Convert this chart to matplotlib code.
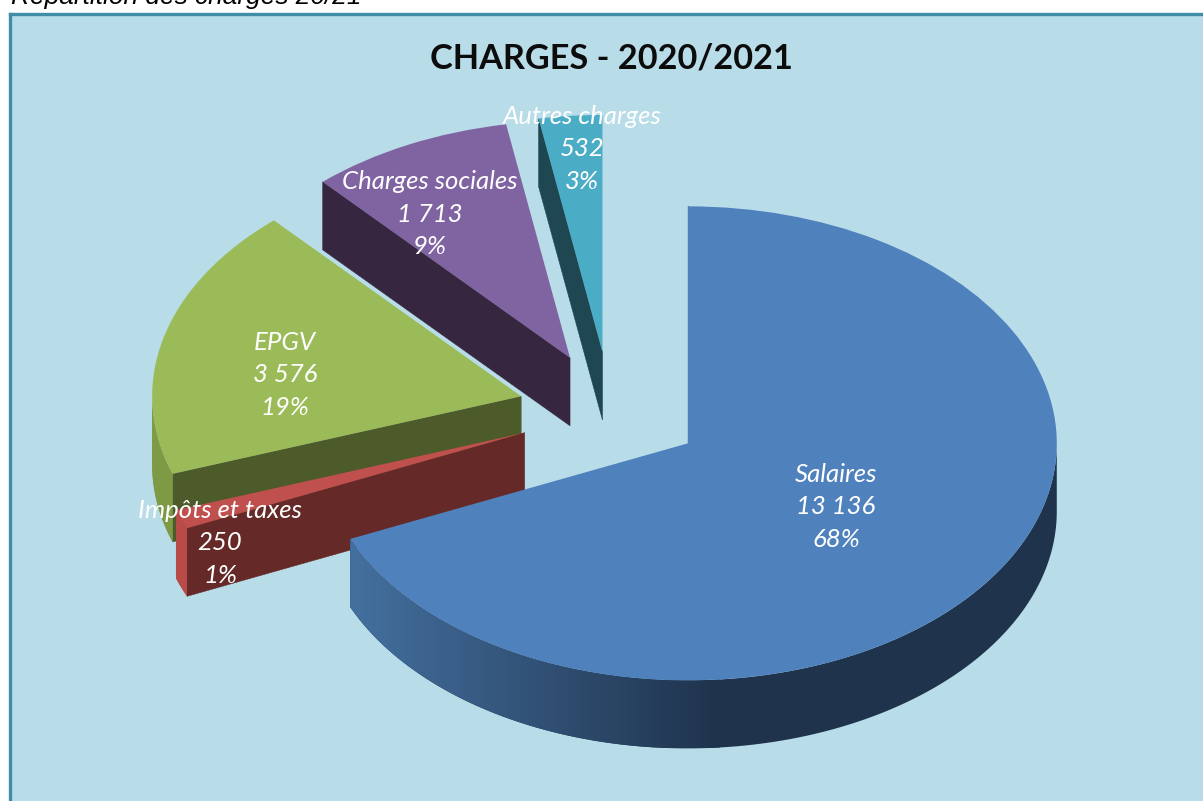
import numpy as np
import matplotlib
matplotlib.use("Agg")
import matplotlib.pyplot as plt
from matplotlib.colors import LinearSegmentedColormap
from matplotlib.patches import Polygon

# === Data ===
categories = ["Salaires", "Impôts et taxes", "EPGV", "Charges sociales", "Autres charges"]
values = [13136, 250, 3576, 1713, 532]
percent_labels = ["68%", "1%", "19%", "9%", "3%"]
page_caption = "Répartition des charges 20/21"
chart_title = "CHARGES - 2020/2021"

# === Style ===
W, H = 1203, 801
TOP_COLORS = ["#4f81bd", "#c0504d", "#9bbb59", "#8064a2", "#4bacc6"]
CUT_COLORS = ["#1f334d", "#652a27", "#4d5a2a", "#36263f", "#1f4752"]
WALL_LEFT = ["#44709f", "#b84b48", "#7f9a45", "#6a5387", "#3b8ba0"]
WALL_RIGHT = ["#1f334d", "#b84b48", "#7f9a45", "#6a5387", "#3b8ba0"]
BACKGROUND = "#b8dde8"
BORDER = "#3f8ea6"
EXPLODE = 0.25
DEPTH = 0.287  # thickness of the pie, in units of the vertical radius
CENTER_PX = (610.5, 411)
RX, RY = 369, 237
GRADIENT_PX = 370
# centre of each label block, pixels
LABEL_PX = [(836, 507), (220, 543), (285, 375), (430, 214), (582, 149)]
LINE_STEP = 32.5
LABEL_FONT = 18.5

plt.rcParams["font.family"] = ["Lato", "DejaVu Sans"]

fig = plt.figure(figsize=(W / 100, H / 100), dpi=100, facecolor="white")
ax = fig.add_axes([10 / W, 0, 1 - 10 / W, 1 - 14 / H])

wedges, _ = ax.pie(
    values,
    explode=[EXPLODE] * len(values),
    startangle=90,
    counterclock=False,
    colors=TOP_COLORS,
    radius=1,
    wedgeprops={"linewidth": 0},
)

# back slices first, Salaires last
draw_order = [4, 3, 2, 1, 0]
for rank, i in enumerate(draw_order):
    w = wedges[i]
    cx, cy = w.center
    base = 2 + rank * 3

    # cut face on the clockwise start of the slice
    a = np.radians(w.theta2)
    ex, ey = cx + np.cos(a), cy + np.sin(a)
    ax.fill([cx, ex, ex, cx], [cy, ey, ey - DEPTH, cy - DEPTH],
            color=CUT_COLORS[i], lw=0.4, zorder=base)

    # outer wall, lower half of the rim only
    t1 = w.theta1 % 360
    t2 = t1 + (w.theta2 - w.theta1)
    lo, hi = max(t1, 180), min(t2, 360)
    if hi > lo:
        th = np.radians(np.linspace(lo, hi, 200))
        xs = cx + np.cos(th)
        ys = cy + np.sin(th)
        outline = np.column_stack([np.r_[xs, xs[::-1]], np.r_[ys, ys[::-1] - DEPTH]])
        cmap = LinearSegmentedColormap.from_list("wall", [WALL_LEFT[i], WALL_RIGHT[i]])
        x_start = xs.min()
        x_stop = x_start + GRADIENT_PX / RX
        img = ax.imshow(np.linspace(0, 1, 256)[None, :], cmap=cmap, aspect="auto",
                        extent=(x_start, x_stop, ys.min() - DEPTH, ys.max()),
                        interpolation="bilinear", zorder=base + 1)
        # past the end of the ramp the wall keeps its last colour
        ax.add_patch(Polygon(outline, closed=True, facecolor=WALL_RIGHT[i], lw=0, zorder=base + 0.5))
        img.set_clip_path(Polygon(outline, closed=True, transform=ax.transData))

    w.set_zorder(base + 2)

# the pie is squashed: one data unit is RX pixels across and RY pixels high
ax.set_aspect("auto")
ax.set_xlim((10 - CENTER_PX[0]) / RX, (W - CENTER_PX[0]) / RX)
ax.set_ylim((CENTER_PX[1] - H) / RY, (CENTER_PX[1] - 14) / RY)
ax.set_frame_on(True)
ax.set_facecolor(BACKGROUND)
for side in ["right", "bottom"]:
    ax.spines[side].set_visible(False)
for side in ["left", "top"]:
    ax.spines[side].set_color(BORDER)
    ax.spines[side].set_linewidth(2.4)

# === Texts ===
def fx(x):
    return x / W

def fy(y):
    return 1 - y / H

for name, val, pct, (lx, ly) in zip(categories, values, percent_labels, LABEL_PX):
    lines = [name, f"{val:,}".replace(",", " "), pct]
    for k, line in enumerate(lines):
        fig.text(fx(lx), fy(ly + (k - 1) * LINE_STEP), line, color="white",
                 fontsize=LABEL_FONT, style="italic", ha="center", va="center", zorder=30)

fig.text(fx(611), fy(58), chart_title, color="#0c0c0c", fontsize=24.7, fontweight="bold",
         ha="center", va="center", zorder=30)
# the caption is cut by the top edge in the reference too
fig.text(fx(11), fy(4), page_caption, color="black", fontsize=18.9, style="italic",
         family="Liberation Sans", ha="left", va="baseline")

fig.savefig("out.png", dpi=100, facecolor="white")
